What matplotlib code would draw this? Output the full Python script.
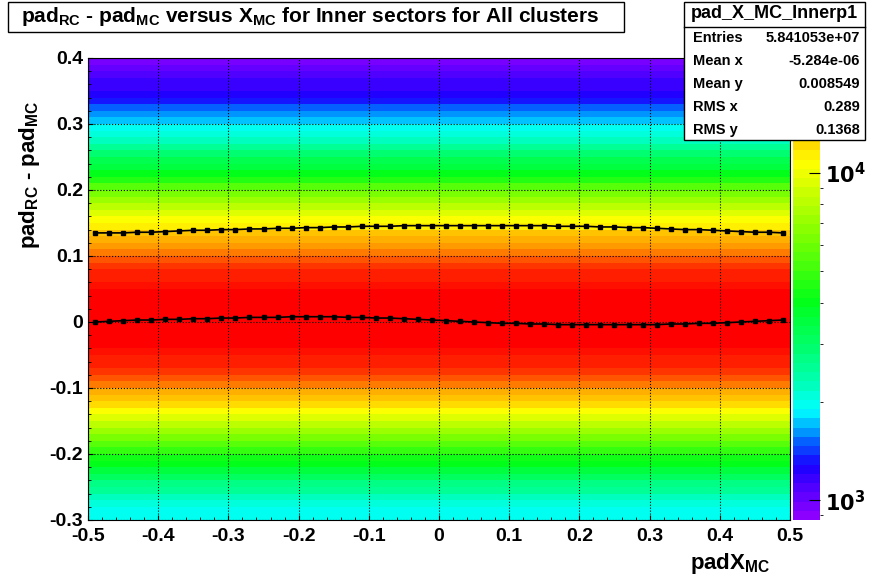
import numpy as np
import matplotlib
matplotlib.use("Agg")
import matplotlib.pyplot as plt
from matplotlib.colors import ListedColormap, LogNorm, LinearSegmentedColormap
from matplotlib.ticker import MultipleLocator

plt.rcParams['font.family'] = ['Liberation Sans', 'DejaVu Sans']

# y-profile counts per 0.01 bin from -0.30 to 0.40
y_counts = [1900, 2000, 2150, 2300, 2500, 2800, 3100, 3500, 3900, 4400,
            5000, 5700, 6500, 7400, 8400, 9500, 10700, 11800, 13000, 14200,
            15300, 16400, 17500, 18600, 19600, 20400, 21000, 21400, 21700, 21800,
            21900, 21900, 21800, 21600, 21200, 20500, 19600, 18500, 17400, 16400,
            15500, 14600, 13600, 12500, 11400, 10300, 9200, 8100, 7100, 6200,
            5400, 4700, 4100, 3600, 3200, 2850, 2550, 2300, 2100, 1900,
            1750, 1600, 1480, 1370, 1280, 1200, 1130, 1070, 1010, 960]
# profile mean per x bin (50 bins)
mean_vals = [0.000, 0.001, 0.002, 0.003, 0.003, 0.004, 0.004, 0.005, 0.005, 0.006,
             0.006, 0.007, 0.007, 0.007, 0.008, 0.008, 0.008, 0.008, 0.007, 0.007,
             0.006, 0.006, 0.005, 0.004, 0.003, 0.002, 0.001, 0.000, -0.001, -0.002,
             -0.002, -0.003, -0.003, -0.004, -0.004, -0.004, -0.004, -0.004, -0.004, -0.004,
             -0.004, -0.003, -0.003, -0.002, -0.002, -0.001, 0.000, 0.001, 0.002, 0.003]
rms_vals = [0.135, 0.135, 0.135, 0.136, 0.136, 0.137, 0.138, 0.139, 0.139, 0.140,
            0.140, 0.141, 0.141, 0.142, 0.142, 0.143, 0.143, 0.144, 0.144, 0.145,
            0.145, 0.145, 0.146, 0.146, 0.146, 0.146, 0.146, 0.146, 0.146, 0.146,
            0.146, 0.146, 0.146, 0.145, 0.145, 0.145, 0.144, 0.144, 0.143, 0.143,
            0.142, 0.141, 0.140, 0.140, 0.139, 0.138, 0.137, 0.136, 0.136, 0.135]
x_ticks = [-0.5, -0.4, -0.3, -0.2, -0.1, 0, 0.1, 0.2, 0.3, 0.4, 0.5]
x_tick_labels = ['-0.5', '-0.4', '-0.3', '-0.2', '-0.1', '0', '0.1', '0.2', '0.3', '0.4', '0.5']
y_ticks = [-0.3, -0.2, -0.1, 0, 0.1, 0.2, 0.3, 0.4]
y_tick_labels = ['-0.3', '-0.2', '-0.1', '0', '0.1', '0.2', '0.3', '0.4']

x_edges = np.linspace(-0.5, 0.5, 51)
y_edges = np.linspace(-0.3, 0.4, 71)
x_centers = 0.5 * (x_edges[:-1] + x_edges[1:])
Z = np.outer(np.array(y_counts, float), np.ones(50))

base = LinearSegmentedColormap.from_list('rootpal', [
    (0.0, (0.55, 0.0, 1.0)), (0.11, (0.1, 0.0, 1.0)), (0.17, (0.0, 0.45, 1.0)),
    (0.23, (0.0, 1.0, 1.0)), (0.32, (0.0, 1.0, 0.6)), (0.47, (0.0, 1.0, 0.1)),
    (0.62, (0.5, 1.0, 0.0)), (0.78, (1.0, 1.0, 0.0)), (0.88, (1.0, 0.6, 0.0)),
    (0.95, (1.0, 0.15, 0.0)), (1.0, (1.0, 0.0, 0.0))])
cmap = ListedColormap(base(np.linspace(0, 1, 50)))
norm = LogNorm(vmin=870, vmax=22400)

fig = plt.figure(figsize=(8.78, 5.78), dpi=100)
ax = fig.add_axes([88/878, 58/578, 702/878, 462/578])
ax.pcolormesh(x_edges, y_edges, Z, cmap=cmap, norm=norm)
ax.plot(x_centers, mean_vals, 'ks-', ms=3, lw=1.2)
ax.plot(x_centers, rms_vals, 'ks-', ms=3, lw=1.2)
ax.set_xlim(-0.5, 0.5); ax.set_ylim(-0.3, 0.4)
ax.set_xticks(x_ticks); ax.set_xticklabels(x_tick_labels)
ax.set_yticks(y_ticks); ax.set_yticklabels(y_tick_labels)
ax.xaxis.set_minor_locator(MultipleLocator(0.02))
ax.yaxis.set_minor_locator(MultipleLocator(0.02))
ax.grid(True, which='major', color='black', linestyle=':', linewidth=0.8)
ax.tick_params(which='both', direction='in', top=False, right=False, labelsize=14)
ax.tick_params(axis='x', pad=6)
for lab in ax.get_xticklabels() + ax.get_yticklabels():
    lab.set_fontweight('bold')

fig.text(770/878, 1-563/578, r'padX$_{\mathregular{MC}}$', ha='right', va='center', fontsize=16, fontweight='bold')
fig.text(30/878, 1-175/578, r'pad$_{\mathregular{RC}}$ - pad$_{\mathregular{MC}}$', rotation=90,
         ha='center', va='center', fontsize=16, fontweight='bold')

cax = fig.add_axes([793/878, 58/578, 27/878, 462/578])
sm = plt.cm.ScalarMappable(norm=norm, cmap=cmap)
cb = fig.colorbar(sm, cax=cax)
cb.outline.set_visible(False)
cax.yaxis.set_ticks([1000, 10000])
cax.yaxis.set_ticklabels([r'$\mathbf{10^3}$', r'$\mathbf{10^4}$'])
cax.tick_params(labelsize=15, direction='in', length=8)
cax.minorticks_on()

# title box
fig.patches.append(plt.Rectangle((8/878, 1-32/578), 616/878, 30/578, transform=fig.transFigure,
                                 facecolor='white', edgecolor='black', lw=1))
fig.text(310/878, 1-16/578,
         r'pad$_{\mathregular{RC}}$ - pad$_{\mathregular{MC}}$ versus X$_{\mathregular{MC}}$ for Inner sectors for All clusters',
         ha='center', va='center', fontsize=15, fontweight='bold')

# stats box
fig.patches.append(plt.Rectangle((684/878, 1-140/578), 181/878, 138/578, transform=fig.transFigure,
                                 facecolor='white', edgecolor='black', lw=1, zorder=5))
fig.lines.append(plt.Line2D([684/878, 865/878], [1-27/578]*2, transform=fig.transFigure, color='black', lw=1, zorder=6))
fig.text(774/878, 1-14/578, 'pad_X_MC_Innerp1', ha='center', va='center', fontsize=13, fontweight='bold', zorder=7)
rows = [('Entries', '5.841053e+07'), ('Mean x', '-5.284e-06'), ('Mean y', '0.008549'),
        ('RMS x', '0.289'), ('RMS y', '0.1368')]
for i, (k, v) in enumerate(rows):
    yy = 1 - (38 + i * 23) / 578
    fig.text(693/878, yy, k, ha='left', va='center', fontsize=10.5, fontweight='bold', zorder=7)
    fig.text(860/878, yy, v, ha='right', va='center', fontsize=10.5, fontweight='bold', zorder=7)

fig.savefig('out.png', dpi=100)
